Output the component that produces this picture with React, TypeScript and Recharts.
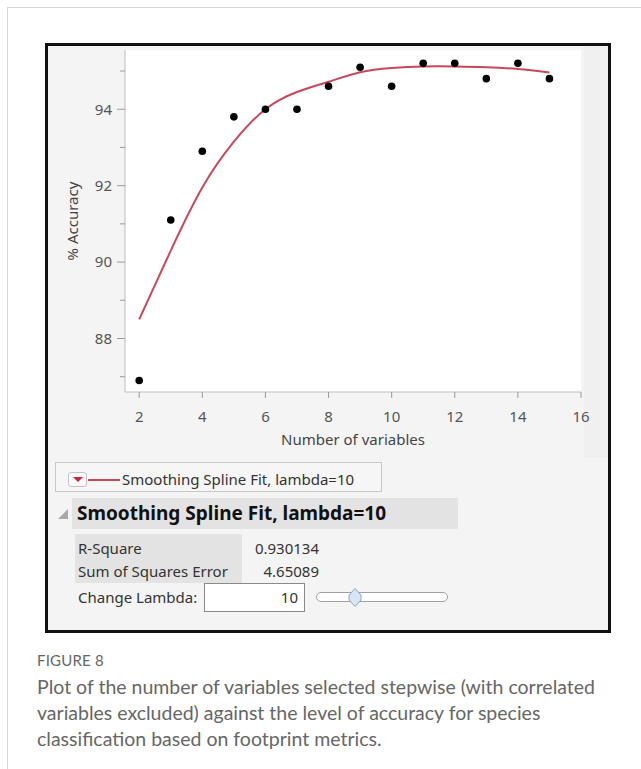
import { ComposedChart, Line, Scatter, XAxis, YAxis, CartesianGrid } from "recharts";

// number of variables selected stepwise
const VARIABLES = [2, 3, 4, 5, 6, 7, 8, 9, 10, 11, 12, 13, 14, 15];
// observed % accuracy
const ACCURACY = [86.9, 91.1, 92.9, 93.8, 94.0, 94.0, 94.6, 95.1, 94.6, 95.2, 95.2, 94.8, 95.2, 94.8];
// smoothing spline fit (lambda = 10)
const SPLINE_FIT = [88.5, 90.3, 91.95, 93.15, 94.0, 94.45, 94.72, 94.97, 95.08, 95.12, 95.12, 95.1, 95.05, 94.96];

const X_TICKS = [2, 4, 6, 8, 10, 12, 14, 16];
const Y_TICKS = [87, 88, 89, 90, 91, 92, 93, 94, 95];
const Y_LABELED = [88, 90, 92, 94];

const FIT_NAME = "Smoothing Spline Fit, lambda=10";
const STAT_LABELS = ["R-Square", "Sum of Squares Error"];
const STAT_VALUES = ["0.930134", "4.65089"];
const LAMBDA = "10";

const CAPTION_TITLE = "FIGURE 8";
const CAPTION =
  "Plot of the number of variables selected stepwise (with correlated variables excluded) against the level of accuracy for species classification based on footprint metrics.";

const data = VARIABLES.map((x, i) => ({ x, acc: ACCURACY[i], fit: SPLINE_FIT[i] }));

const FONT = "'Noto Sans', sans-serif";
const AXIS_GRAY = "#bdbdbd";
const FIT_RED = "#c9475b";

const XTick = ({ x, y, payload }: any) => (
  <g>
    <line x1={x} x2={x} y1={y - 8} y2={y - 2} stroke="#9a9a9a" />
    <text x={x} y={y + 22} textAnchor="middle" fontSize={15} fill="#555" fontFamily={FONT}>
      {payload.value}
    </text>
  </g>
);

const YTick = ({ x, y, payload }: any) => {
  const major = Y_LABELED.includes(payload.value);
  const axisX = x + 8;
  return (
    <g>
      <line x1={axisX - (major ? 8 : 5)} x2={axisX} y1={y} y2={y} stroke="#9a9a9a" />
      {major && (
        <text x={axisX - 13} y={y} dy="0.36em" textAnchor="end" fontSize={15} fill="#555" fontFamily={FONT}>
          {payload.value}
        </text>
      )}
    </g>
  );
};

const Dot = ({ cx, cy }: any) => <circle cx={cx} cy={cy} r={3.8} fill="#000" />;

const abs = (left: number, top: number, extra: any = {}) => ({
  position: "absolute" as const,
  left,
  top,
  ...extra,
});

export default function App() {
  return (
    <div style={{ position: "absolute", left: 0, top: 0, width: 641, height: 769, background: "#fff", fontFamily: FONT, overflow: "hidden" }}>
      {/* page card borders */}
      <div style={abs(7, 7, { width: 634, height: 1, background: "#d6d6d6" })} />
      <div style={abs(7, 7, { width: 1, height: 762, background: "#d6d6d6" })} />

      {/* JMP report box */}
      <div style={abs(45, 43, { width: 566, height: 590, border: "3px solid #111", boxSizing: "border-box", background: "#f4f4f4" })} />
      <div style={abs(584, 46, { width: 24, height: 412, background: "#f0f0f0" })} />

      <div style={abs(0, 0)}>
        <ComposedChart width={641} height={460} data={data} margin={{ top: 50, right: 60, bottom: 0, left: 0 }}>
          <CartesianGrid fill="#fff" horizontal={false} vertical={false} />
          <XAxis
            type="number"
            dataKey="x"
            domain={[1.55, 16]}
            ticks={X_TICKS}
            allowDataOverflow
            height={68}
            axisLine={{ stroke: AXIS_GRAY }}
            tickLine={false}
            tick={<XTick />}
            label={{
              value: "Number of variables",
              content: ({ viewBox }: any) => (
                <text x={viewBox.x + viewBox.width / 2} y={viewBox.y + 53} textAnchor="middle" fontSize={15} fill="#444" fontFamily={FONT}>
                  Number of variables
                </text>
              ),
            }}
          />
          <XAxis xAxisId="top" orientation="top" type="number" domain={[1.55, 16]} height={0} tick={false} tickLine={false} axisLine={{ stroke: "#d4d4d4" }} />
          <YAxis
            type="number"
            domain={[86.6, 95.55]}
            ticks={Y_TICKS}
            allowDataOverflow
            width={125}
            axisLine={{ stroke: AXIS_GRAY }}
            tickLine={false}
            tick={<YTick />}
            label={{
              value: "% Accuracy",
              content: ({ viewBox }: any) => {
                const cx = viewBox.x + 73;
                const cy = viewBox.y + viewBox.height / 2;
                return (
                  <text x={cx} y={cy} dy="0.36em" textAnchor="middle" fontSize={15} fill="#444" fontFamily={FONT} transform={`rotate(-90 ${cx} ${cy})`}>
                    % Accuracy
                  </text>
                );
              },
            }}
          />
          <YAxis yAxisId="right" orientation="right" type="number" domain={[86.6, 95.55]} width={0} tick={false} tickLine={false} axisLine={{ stroke: "#d4d4d4" }} />
          <Line dataKey="fit" type="natural" stroke={FIT_RED} strokeWidth={2} dot={false} activeDot={false} isAnimationActive={false} />
          <Scatter dataKey="acc" fill="#000" shape={<Dot />} isAnimationActive={false} />
        </ComposedChart>
      </div>

      {/* legend row */}
      <div style={abs(55, 462, { width: 327, height: 30, border: "1px solid #c8c8c8", boxSizing: "border-box", background: "#f6f6f6" })} />
      <div style={abs(68, 472, { width: 19, height: 15, border: "1px solid #c4c4c4", borderRadius: 3, boxSizing: "border-box", background: "#fafafa" })}>
        <div style={abs(4, 4, { width: 0, height: 0, borderLeft: "5px solid transparent", borderRight: "5px solid transparent", borderTop: "5px solid #d0203a" })} />
      </div>
      <div style={abs(88, 479, { width: 32, height: 2, background: FIT_RED })} />
      <div style={abs(122, 468, { fontSize: 15, lineHeight: "22px", color: "#333", whiteSpace: "nowrap" })}>{FIT_NAME}</div>

      {/* outline header */}
      <svg style={abs(58, 509)} width={11} height={11}>
        <polygon points="10,0 10,10 0,10" fill="#a8a8a8" />
      </svg>
      <div style={abs(72, 498, { width: 386, height: 31, background: "#e3e3e3" })} />
      <div style={abs(77, 499, { fontSize: 19, fontWeight: 700, lineHeight: "28px", color: "#111", whiteSpace: "nowrap" })}>{FIT_NAME}</div>

      {/* fit statistics */}
      <div style={abs(75, 534, { width: 167, height: 49, background: "#e3e3e3" })} />
      {STAT_LABELS.map((label, i) => (
        <div key={label} style={abs(78, 537 + i * 23, { fontSize: 15, lineHeight: "22px", color: "#333", whiteSpace: "nowrap" })}>
          {label}
        </div>
      ))}
      {STAT_VALUES.map((v, i) => (
        <div key={v} style={abs(220, 537 + i * 23, { width: 99, textAlign: "right", fontSize: 15, lineHeight: "22px", color: "#333" })}>
          {v}
        </div>
      ))}

      {/* change lambda */}
      <div style={abs(78, 586, { fontSize: 15, lineHeight: "22px", color: "#333", whiteSpace: "nowrap" })}>Change Lambda:</div>
      <div style={abs(204, 583, { width: 101, height: 29, border: "1px solid #8a8a8a", boxSizing: "border-box", background: "#fff", textAlign: "right", paddingRight: 6, fontSize: 15, lineHeight: "26px", color: "#333" })}>
        {LAMBDA}
      </div>
      <div style={abs(316, 592, { width: 132, height: 10, border: "1px solid #a0a0a0", borderRadius: 5, boxSizing: "border-box", background: "#fff" })} />
      <svg style={abs(348, 588)} width={14} height={19}>
        <polygon points="7,0.5 13,7 13,12 7,18.5 1,12 1,7" fill="#d6e6f8" stroke="#8fa4bf" strokeWidth={1} />
      </svg>

      {/* caption */}
      <div style={abs(37, 651, { fontFamily: "Lato, sans-serif", fontSize: 15, lineHeight: "18px", color: "#666", letterSpacing: 0.2 })}>{CAPTION_TITLE}</div>
      <div style={abs(37, 674, { width: 580, fontFamily: "Lato, sans-serif", fontSize: 19.5, lineHeight: "26px", color: "#666" })}>{CAPTION}</div>
    </div>
  );
}
